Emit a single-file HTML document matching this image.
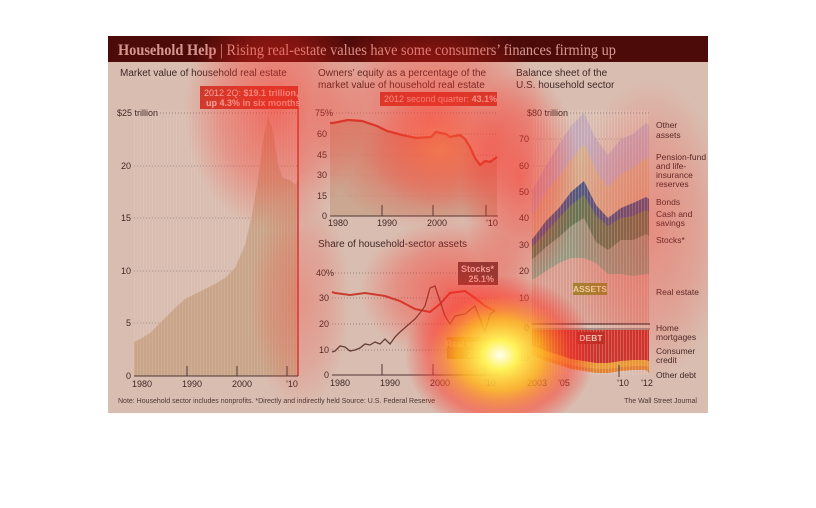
<!DOCTYPE html>
<html><head><meta charset="utf-8"><style>
html,body{margin:0;padding:0;background:#fff;width:816px;height:508px;overflow:hidden}
svg text{font-family:"Liberation Sans",sans-serif}
</style></head><body>
<svg width="816" height="508" viewBox="0 0 816 508" xmlns="http://www.w3.org/2000/svg">
<defs>
<clipPath id="cp"><rect x="108" y="36" width="600" height="377"/></clipPath>
<pattern id="st" width="3" height="10" patternUnits="userSpaceOnUse"><rect x="2" y="0" width="1" height="10" fill="#fff" opacity="0.25"/></pattern>
<radialGradient id="hy"><stop offset="0" stop-color="#fffef0"/><stop offset="0.18" stop-color="#fff35a"/><stop offset="0.45" stop-color="#ffb020" stop-opacity="0.85"/><stop offset="0.75" stop-color="#ff3a2a" stop-opacity="0.5"/><stop offset="1" stop-color="#ff2020" stop-opacity="0"/></radialGradient>
<radialGradient id="hr"><stop offset="0" stop-color="#ff2a20" stop-opacity="0.55"/><stop offset="0.6" stop-color="#ff2a20" stop-opacity="0.3"/><stop offset="1" stop-color="#ff2a20" stop-opacity="0"/></radialGradient>
<radialGradient id="ho"><stop offset="0" stop-color="#ff7a40" stop-opacity="0.55"/><stop offset="1" stop-color="#ff3a30" stop-opacity="0"/></radialGradient>
</defs>
<rect x="108" y="36" width="600" height="377" fill="#d6d1c4"/>
<rect x="108" y="36" width="600" height="26" fill="#0c0404"/>
<text x="118" y="55" style="font-family:'Liberation Serif',serif" font-weight="bold" font-size="15.5" fill="#e6e0d8" textLength="498" lengthAdjust="spacingAndGlyphs">Household Help <tspan font-weight="normal">| Rising real-estate values have some consumers’ finances firming up</tspan></text>

<!-- left panel -->
<text x="120" y="76" font-size="10" fill="#222">Market value of household real estate</text>
<g stroke="#777" stroke-dasharray="1,2" stroke-width="0.8">
<line x1="160" y1="113" x2="298" y2="113"/><line x1="134" y1="166" x2="298" y2="166"/><line x1="134" y1="218" x2="298" y2="218"/><line x1="134" y1="271" x2="298" y2="271"/><line x1="134" y1="323" x2="298" y2="323"/></g>
<polygon points="134,342 142,338 150,333 158,325 166,317 175,308 185,299 195,294 205,289 215,284 225,278 235,268 245,245 252,215 258,180 263,140 268,117 273,130 278,165 283,178 290,180 296,185 298,176 298,376 134,376" fill="#c4b596"/>
<rect x="134" y="110" width="164" height="266" fill="url(#st)" opacity="0.5"/>
<line x1="298" y1="100" x2="298" y2="376" stroke="#c33" stroke-width="1.5"/>
<rect x="200" y="86" width="98" height="23" fill="#c43a2c"/>
<text x="204" y="96" font-size="9" fill="#f3e0d8">2012 2Q: <tspan font-weight="bold">$19.1 trillion,</tspan></text>
<text x="206" y="106" font-size="9" font-weight="bold" fill="#f3e0d8">up 4.3% in six months</text>
<g font-size="9" fill="#222" text-anchor="end"><text x="158" y="116">$25 trillion</text><text x="131" y="169">20</text><text x="131" y="221">15</text><text x="131" y="274">10</text><text x="131" y="326">5</text><text x="131" y="379">0</text></g>
<line x1="134" y1="376" x2="298" y2="376" stroke="#333"/>
<g font-size="9" fill="#222" text-anchor="middle"><text x="142" y="387">1980</text><text x="192" y="387">1990</text><text x="242" y="387">2000</text><text x="292" y="387">'10</text></g>
<g stroke="#333"><line x1="187" y1="366" x2="187" y2="376"/><line x1="237" y1="366" x2="237" y2="376"/><line x1="287" y1="366" x2="287" y2="376"/></g>

<!-- mid top -->
<text x="318" y="76" font-size="10" fill="#222">Owners’ equity as a percentage of the</text>
<text x="318" y="88" font-size="10" fill="#222">market value of household real estate</text>
<g stroke="#777" stroke-dasharray="1,2" stroke-width="0.8"><line x1="330" y1="113" x2="498" y2="113"/><line x1="330" y1="134" x2="498" y2="134"/><line x1="330" y1="155" x2="498" y2="155"/><line x1="330" y1="175" x2="498" y2="175"/><line x1="330" y1="196" x2="498" y2="196"/></g>
<polygon points="330,123 333,123 348,120 362,121 377,126 387,131 402,135 416,138 431,137 436,132 446,134 450,137 460,135 465,139 470,147 475,158 480,165 485,161 490,162 497,157 497,216 330,216" fill="#c2b096" opacity="0.8"/>
<polyline points="330,123 333,123 348,120 362,121 377,126 387,131 402,135 416,138 431,137 436,132 446,134 450,137 460,135 465,139 470,147 475,158 480,165 485,161 490,162 497,157" fill="none" stroke="#c0392b" stroke-width="2.2"/>
<rect x="380" y="92" width="117" height="14" fill="#c43a2c"/>
<text x="384" y="102" font-size="9" fill="#f3e0d8">2012 second quarter: <tspan font-weight="bold">43.1%</tspan></text>
<g font-size="9" fill="#222" text-anchor="end"><text x="333" y="116">75%</text><text x="327" y="137">60</text><text x="327" y="158">45</text><text x="327" y="178">30</text><text x="327" y="199">15</text><text x="327" y="219">0</text></g>
<line x1="330" y1="216" x2="498" y2="216" stroke="#333"/>
<g font-size="9" fill="#222" text-anchor="middle"><text x="338" y="226">1980</text><text x="387" y="226">1990</text><text x="437" y="226">2000</text><text x="492" y="226">'10</text></g>
<g stroke="#333"><line x1="382" y1="205" x2="382" y2="216"/><line x1="433" y1="205" x2="433" y2="216"/><line x1="486" y1="205" x2="486" y2="216"/></g>

<!-- mid bottom -->
<text x="318" y="247" font-size="10" fill="#222">Share of household-sector assets</text>
<g stroke="#777" stroke-dasharray="1,2" stroke-width="0.8"><line x1="332" y1="273" x2="498" y2="273"/><line x1="332" y1="298" x2="498" y2="298"/><line x1="332" y1="324" x2="498" y2="324"/><line x1="332" y1="350" x2="498" y2="350"/></g>
<polyline points="332,292 335,293 350,295 365,293 385,296 400,301 415,309 430,312 440,304 450,293 465,291 475,298 485,306 495,311" fill="none" stroke="#c0392b" stroke-width="2"/>
<polyline points="332,352 335,351 340,346 345,347 350,351 355,350 360,348 365,344 370,345 375,342 380,344 385,339 390,344 395,337 400,332 408,325 415,319 420,313 425,306 430,288 435,286 440,301 445,316 450,324 455,316 465,314 475,306 480,319 485,332 490,314 495,311" fill="none" stroke="#4a3a34" stroke-width="1.3"/>
<rect x="458" y="262" width="40" height="23" fill="#4a3c3a"/>
<text x="494" y="272" font-size="9" font-weight="bold" fill="#eee" text-anchor="end">Stocks*</text>
<text x="494" y="282" font-size="9" font-weight="bold" fill="#eee" text-anchor="end">25.1%</text>
<rect x="447" y="337" width="50" height="22" fill="#b58a30"/>
<text x="493" y="347" font-size="9" font-weight="bold" fill="#f3e6c0" text-anchor="end">Real estate</text>
<text x="493" y="357" font-size="9" font-weight="bold" fill="#f3e6c0" text-anchor="end">25.0%</text>
<g font-size="9" fill="#222" text-anchor="end"><text x="334" y="276">40%</text><text x="329" y="301">30</text><text x="329" y="327">20</text><text x="329" y="353">10</text><text x="329" y="378">0</text></g>
<line x1="332" y1="375" x2="498" y2="375" stroke="#333"/>
<g font-size="9" fill="#222" text-anchor="middle"><text x="340" y="386">1980</text><text x="390" y="386">1990</text><text x="440" y="386">2000</text><text x="490" y="386">'10</text></g>
<g stroke="#333"><line x1="382" y1="364" x2="382" y2="375"/><line x1="433" y1="364" x2="433" y2="375"/><line x1="485" y1="364" x2="485" y2="375"/></g>

<!-- right panel -->
<text x="516" y="76" font-size="10" fill="#222">Balance sheet of the</text>
<text x="516" y="88" font-size="10" fill="#222">U.S. household sector</text>
<g stroke="#777" stroke-dasharray="1,2" stroke-width="0.8"><line x1="570" y1="113" x2="650" y2="113"/><line x1="533" y1="139" x2="650" y2="139"/><line x1="533" y1="166" x2="650" y2="166"/><line x1="533" y1="192" x2="650" y2="192"/><line x1="533" y1="218" x2="650" y2="218"/><line x1="533" y1="245" x2="650" y2="245"/><line x1="533" y1="271" x2="650" y2="271"/><line x1="533" y1="298" x2="650" y2="298"/></g>
<polygon points="532,190 534,187 546,166 559,144 571,126 584,113 596,139 608,155 621,139 633,134 646,123 649,125 649,324 532,324" fill="#bcb8cc"/>
<polygon points="532,215 534,213 546,192 559,176 571,160 584,144 596,171 608,187 621,174 633,168 646,158 649,160 649,324 532,324" fill="#d2bc98"/>
<polygon points="532,239 534,237 546,221 559,208 571,192 584,181 596,205 608,218 621,208 633,203 646,197 649,199 649,324 532,324" fill="#2e5a8e"/>
<polygon points="532,247 534,245 546,232 559,218 571,205 584,195 596,216 608,226 621,218 633,216 646,210 649,212 649,324 532,324" fill="#4a7e58"/>
<polygon points="532,259 534,258 546,247 559,237 571,226 584,218 596,242 608,250 621,240 633,240 646,234 649,236 649,324 532,324" fill="#8aa48a"/>
<polygon points="532,280 534,279 546,271 559,263 571,258 584,258 596,263 608,274 621,274 633,276 646,274 649,275 649,324 532,324" fill="#d4aa9a"/>
<polygon points="532,330 649,330 649,373 646,370 633,370 621,371 608,373 596,373 584,371 571,369 559,365 546,361 534,356 532,356" fill="#e08a30"/>
<polygon points="532,330 649,330 649,367 646,366 633,366 621,367 608,369 596,369 584,367 571,365 559,361 546,357 534,352 532,352" fill="#e8a830"/>
<polygon points="532,330 649,330 649,361 646,360 633,360 621,361 608,363 596,363 584,361 571,359 559,355 546,351 534,346 532,346" fill="#c43028"/>
<rect x="532" y="110" width="117" height="265" fill="url(#st)"/>
<line x1="532" y1="324" x2="650" y2="324" stroke="#333" stroke-width="1.2"/>
<line x1="532" y1="329" x2="650" y2="329" stroke="#333" stroke-width="0.8"/>
<rect x="573" y="283" width="34" height="12" fill="#9a8a30"/><text x="590" y="292" font-size="8.5" font-weight="bold" fill="#f0e6b0" text-anchor="middle">ASSETS</text>
<rect x="577" y="332" width="28" height="12" fill="#b82a24"/><text x="591" y="341" font-size="8.5" font-weight="bold" fill="#f3d0c0" text-anchor="middle">DEBT</text>
<g font-size="9" fill="#222" text-anchor="end"><text x="568" y="116">$80 trillion</text><text x="529" y="142">70</text><text x="529" y="169">60</text><text x="529" y="195">50</text><text x="529" y="221">40</text><text x="529" y="248">30</text><text x="529" y="274">20</text><text x="529" y="301">10</text><text x="529" y="331">0</text><text x="529" y="361">10</text></g>
<g font-size="9" fill="#222" text-anchor="middle"><text x="537" y="386">2003</text><text x="564" y="386">'05</text><text x="623" y="386">'10</text><text x="647" y="386">'12</text></g>
<g stroke="#333"><line x1="619" y1="365" x2="619" y2="377"/></g>
<g font-size="8.5" fill="#222">
<text x="656" y="128">Other</text><text x="656" y="138">assets</text>
<text x="656" y="160">Pension-fund</text><text x="656" y="169">and life-</text><text x="656" y="178">insurance</text><text x="656" y="187">reserves</text>
<text x="656" y="205">Bonds</text><text x="656" y="217">Cash and</text><text x="656" y="226">savings</text>
<text x="656" y="243">Stocks*</text><text x="656" y="295">Real estate</text>
<text x="656" y="331">Home</text><text x="656" y="340">mortgages</text><text x="656" y="354">Consumer</text><text x="656" y="363">credit</text><text x="656" y="378">Other debt</text></g>

<text x="118" y="403" font-size="7" fill="#333">Note: Household sector includes nonprofits.    *Directly and indirectly held    Source: U.S. Federal Reserve</text>
<text x="697" y="403" font-size="7" fill="#333" text-anchor="end">The Wall Street Journal</text>

<!-- heat overlay -->
<g clip-path="url(#cp)">
<rect x="108" y="36" width="600" height="377" fill="#e85040" opacity="0.15"/>
<rect x="108" y="36" width="600" height="26" fill="#a00" opacity="0.25"/>
<ellipse cx="275" cy="110" rx="90" ry="120" fill="url(#hr)"/>
<ellipse cx="430" cy="120" rx="120" ry="110" fill="url(#hr)"/>
<ellipse cx="440" cy="150" rx="70" ry="60" fill="url(#ho)"/>
<ellipse cx="520" cy="180" rx="60" ry="110" fill="url(#hr)"/>
<ellipse cx="650" cy="230" rx="80" ry="150" fill="url(#hr)" opacity="0.6"/>
<ellipse cx="450" cy="290" rx="90" ry="70" fill="url(#hr)"/>
<ellipse cx="300" cy="300" rx="50" ry="110" fill="url(#hr)" opacity="0.5"/>
<ellipse cx="500" cy="355" rx="95" ry="80" fill="url(#hy)"/>
</g>
</svg>
</body></html>
